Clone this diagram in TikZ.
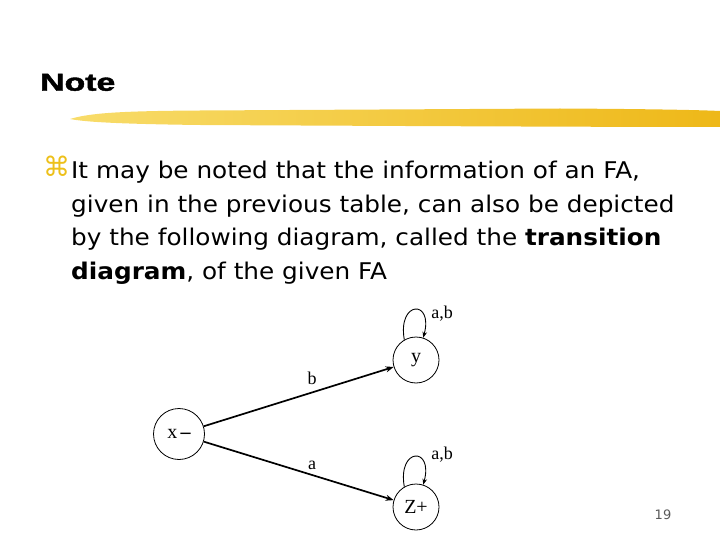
\documentclass[tikz,border=0pt]{standalone}
\usepackage{fontspec}
\usepackage{graphicx}
\setmainfont{Liberation Serif}
\newfontfamily\bodyfont{DejaVu Sans}
\newfontfamily\titlefont[BoldFeatures={FakeBold=1.5}]{Liberation Sans}
\newfontfamily\symfont{DejaVu Sans}
\usetikzlibrary{arrows.meta}
\definecolor{strokeL}{HTML}{F8DC6A}
\definecolor{strokeR}{HTML}{EEB818}
\definecolor{bulletc}{HTML}{EDC01A}
\newcommand{\widetxt}[1]{\scalebox{1.075}[1]{#1}}
\begin{document}
\begin{tikzpicture}[x=1pt,y=-1pt,
  state/.style={circle,draw,line width=0.8pt,inner sep=0pt,font=\fontsize{20}{20}\selectfont},
  trans/.style={line width=1.7pt,-{Stealth[length=8pt,width=6pt]}},
  selfloop/.style={line width=0.9pt,-{Stealth[length=6pt,width=4.5pt]}},
  lbl/.style={font=\fontsize{18}{18}\selectfont},
  body/.style={anchor=base west,inner sep=0pt,font=\bodyfont\fontsize{23}{23}\selectfont}]
\useasboundingbox (0,0) rectangle (720,540);
% title
\node[anchor=base west,inner sep=0pt,font=\titlefont\bfseries\fontsize{24.5}{24.5}\selectfont] (title) at (40,90.7) {\scalebox{1.38}[1]{Note}};
% brush stroke
\shade[left color=strokeL,right color=strokeR] (70,119) .. controls (90,113) and (120,111) .. (200,110.5) -- (560,108.5) .. controls (650,109) and (700,110) .. (720,111) -- (720,127) .. controls (600,127) and (400,126) .. (200,125) .. controls (120,124) and (85,122) .. (70,119) -- cycle;
% bullet and text
\node[anchor=base west,inner sep=0pt,text=bulletc,font=\symfont\fontsize{27}{27}\selectfont] (bul) at (43,177) {⌘};
\node[body] (l1) at (71,178.5) {\widetxt{It may be noted that the information of an FA,}};
\node[body] (l2) at (71,212.2) {\widetxt{given in the previous table, can also be depicted}};
\node[body] (l3) at (71,245.9) {\widetxt{by the following diagram, called the \textbf{transition}}};
\node[body] (l4) at (71,279.6) {\widetxt{\textbf{diagram}, of the given FA}};
% states
\node[state,minimum size=51pt] (x) at (179,434) {x\,{\bfseries –}};
\node[state,minimum size=46pt] (y) at (416,360) {y};
\node[state,minimum size=46pt] (z) at (416,507) {Z+};
% transitions
\draw[trans] (x) -- (y);
\draw[trans] (x) -- (z);
\node[lbl] (lb) at (312,378) {b};
\node[lbl] (la) at (312,465) {a};
% loops
\draw[selfloop] (y.120) .. controls +(100:40pt) and +(75:40pt) .. (y.72);
\draw[selfloop] (z.120) .. controls +(100:40pt) and +(75:40pt) .. (z.72);
\node[lbl] (lab1) at (442,314) {a,b};
\node[lbl] (lab2) at (442,455) {a,b};
% page number
\node[font=\bodyfont\fontsize{13}{13}\selectfont,text=black!65] (pg) at (663,515) {19};
\end{tikzpicture}
\end{document}
